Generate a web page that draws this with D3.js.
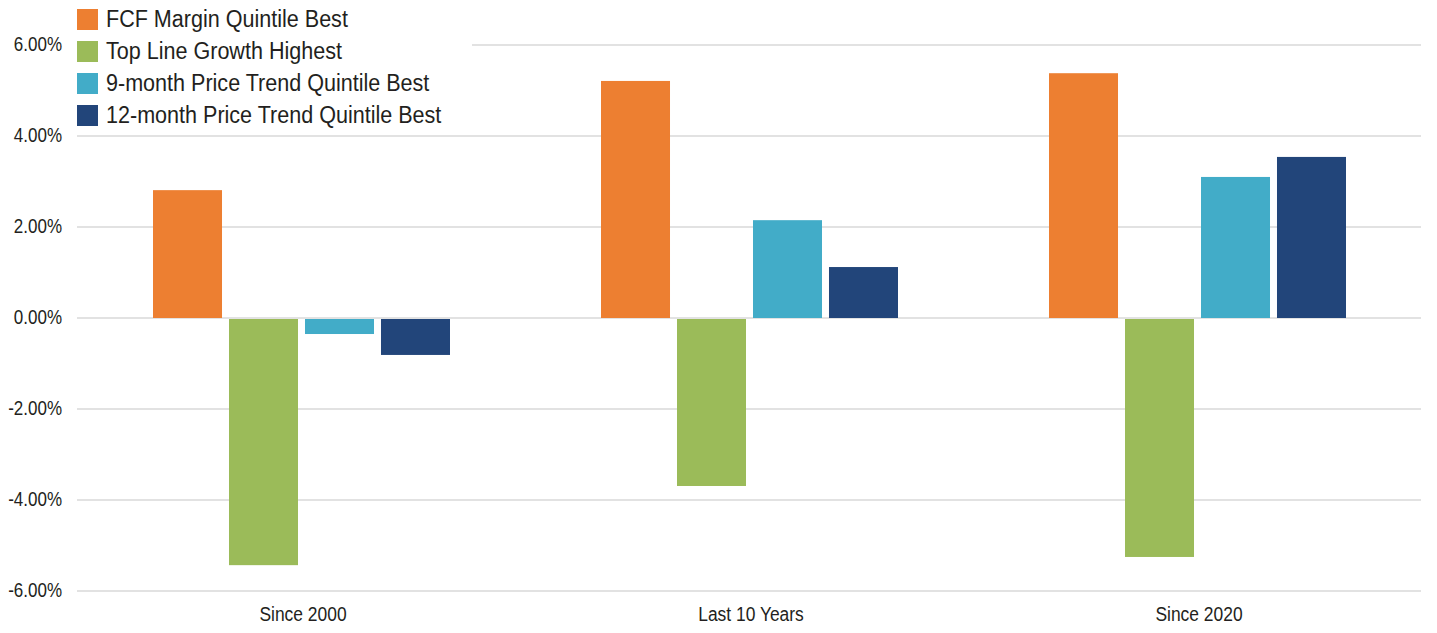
<!DOCTYPE html>
<html>
<head>
<meta charset="utf-8">
<script src="https://cdn.jsdelivr.net/npm/d3@7"></script>
<style>
  body { margin: 0; background: #fff; }
  text { font-family: "Liberation Sans", Arial, sans-serif; fill: #231f20; }
</style>
</head>
<body>
<div id="chart"></div>
<script>
// data
var categories = ["Since 2000", "Last 10 Years", "Since 2020"];
var series = ["FCF Margin Quintile Best", "Top Line Growth Highest", "9-month Price Trend Quintile Best", "12-month Price Trend Quintile Best"];
var colors = ["#ed7f31", "#9bbb59", "#42acc8", "#22457a"];
var fcfMargin = [2.81, 5.21, 5.38];
var topLine = [-5.41, -3.67, -5.23];
var trend9 = [-0.33, 2.15, 3.10];
var trend12 = [-0.79, 1.12, 3.54];
var yTicks = [-6, -4, -2, 0, 2, 4, 6];

var values = [fcfMargin, topLine, trend9, trend12];

var width = 1437, height = 633;
var margin = {top: 45, right: 16, bottom: 42, left: 77};

var svg = d3.select("#chart").append("svg")
  .attr("width", width)
  .attr("height", height);

var x0 = d3.scaleBand()
  .domain(categories)
  .range([margin.left, width - margin.right]);

var x1 = d3.scaleBand()
  .domain(series)
  .range([76, 373])
  .paddingInner(0.092);

var y = d3.scaleLinear()
  .domain([-6, 6])
  .range([height - margin.bottom, margin.top]);

// condensed look: squeeze the text horizontally
function place(x, yy, sx) {
  return "translate(" + x + "," + yy + ") scale(" + sx + ",1)";
}

// gridlines
svg.append("g").selectAll("line")
  .data(yTicks)
  .enter().append("line")
    .attr("x1", margin.left)
    .attr("x2", width - margin.right)
    .attr("y1", function(d){ return y(d); })
    .attr("y2", function(d){ return y(d); })
    .attr("stroke", "#d9d9d9")
    .attr("stroke-width", 1.5);

// y tick labels
svg.append("g").selectAll("text")
  .data(yTicks)
  .enter().append("text")
    .attr("transform", function(d){ return place(62, y(d), 0.81); })
    .attr("dominant-baseline", "middle")
    .attr("text-anchor", "end")
    .attr("font-size", 21)
    .text(function(d){ return d3.format(".2f")(d).replace("\u2212", "-") + "%"; });

// bars
var groups = svg.append("g").selectAll("g")
  .data(categories)
  .enter().append("g")
    .attr("transform", function(d){ return "translate(" + x0(d) + ",0)"; });

groups.selectAll("rect")
  .data(function(c, ci){ return series.map(function(s, si){ return {s: s, i: si, v: values[si][ci]}; }); })
  .enter().append("rect")
    .attr("x", function(d){ return x1(d.s); })
    .attr("width", x1.bandwidth())
    .attr("y", function(d){ return d.v >= 0 ? y(d.v) : y(0) + 1; })
    .attr("height", function(d){ return Math.abs(y(d.v) - y(0)); })
    .attr("fill", function(d){ return colors[d.i]; });

// category labels
svg.append("g").selectAll("text")
  .data(categories)
  .enter().append("text")
    .attr("transform", function(d){ return place(x0(d) + x0.bandwidth() / 2 + 2, 621, 0.83); })
    .attr("text-anchor", "middle")
    .attr("font-size", 21)
    .text(function(d){ return d; });

// legend
var legend = svg.append("g");
legend.append("rect")
  .attr("x", 70).attr("y", 0)
  .attr("width", 402).attr("height", 132)
  .attr("fill", "#fff");

var items = legend.selectAll("g")
  .data(series)
  .enter().append("g")
    .attr("transform", function(d, i){ return "translate(77," + (9 + 32 * i) + ")"; });

items.append("rect")
  .attr("width", 21).attr("height", 21)
  .attr("fill", function(d, i){ return colors[i]; });

items.append("text")
  .attr("transform", place(29, 11.5, 0.88))
  .attr("dominant-baseline", "middle")
  .attr("font-size", 24.5)
  .text(function(d){ return d; });
</script>
</body>
</html>
